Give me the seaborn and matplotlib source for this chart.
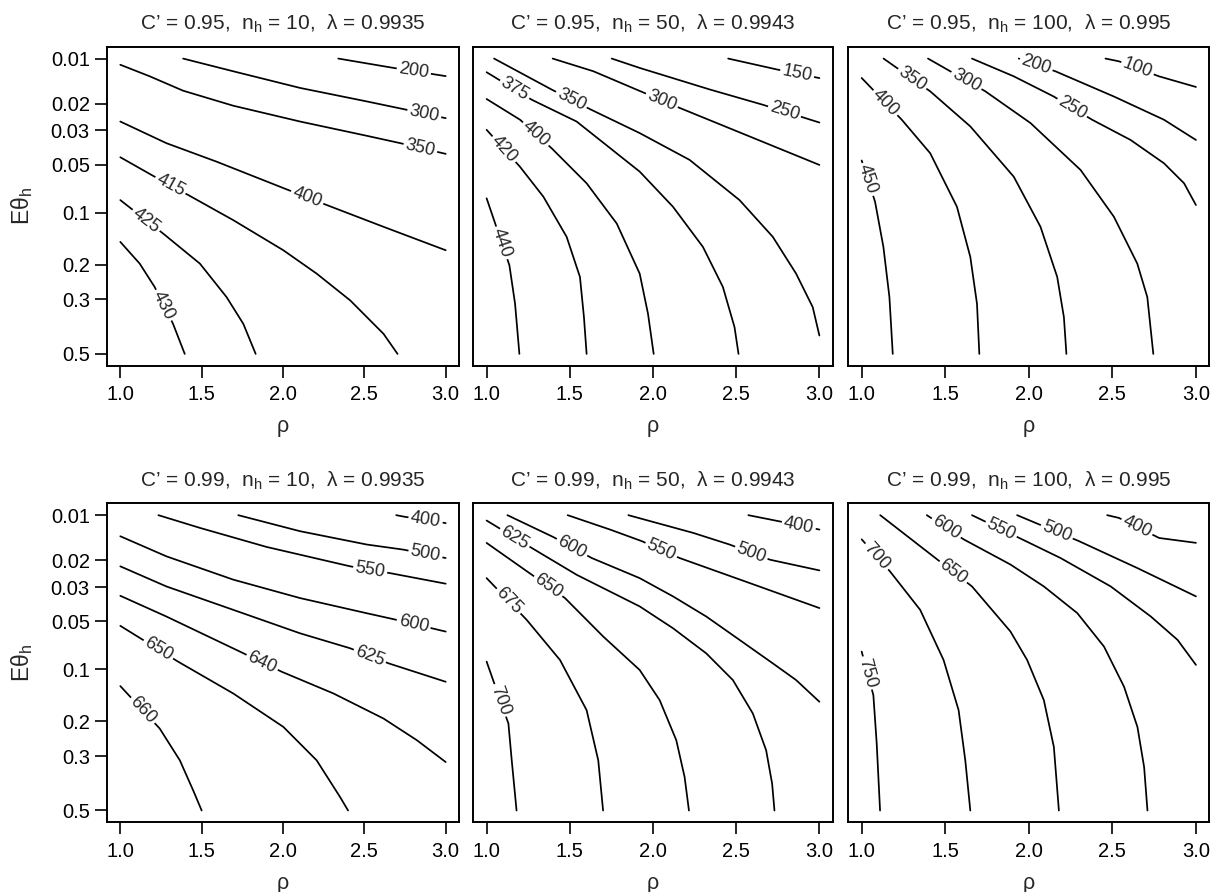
import numpy as np
import pandas as pd
import matplotlib
matplotlib.use("Agg")
import matplotlib.pyplot as plt
import seaborn as sns
from matplotlib.ticker import NullLocator

# --- panel titles ---
c_prime = ["0.95", "0.99"]
n_h = [10, 50, 100]
lam = ["0.9935", "0.9943", "0.995"]

# axis ticks
rho_ticks = [1.0, 1.5, 2.0, 2.5, 3.0]
eth_ticks = [0.01, 0.02, 0.03, 0.05, 0.1, 0.2, 0.3, 0.5]
eth_tick_labels = ["0.01", "0.02", "0.03", "0.05", "0.1", "0.2", "0.3", "0.5"]

# --- panel 1: C'=0.95, n_h=10 ---
levels1 = [200, 300, 350, 400, 415, 425, 430]
rho1 = [[2.34, 2.68, 3.0],
        [1.386, 1.694, 2.105, 2.515, 2.741, 3.0],
        [1.0, 1.181, 1.386, 1.694, 2.105, 2.515, 2.721, 3.0],
        [1.0, 1.283, 1.591, 2.023, 2.269, 2.618, 3.0],
        [1.0, 1.201, 1.417, 1.694, 2.002, 2.207, 2.413, 2.618, 2.704],
        [1.0, 1.263, 1.489, 1.653, 1.756, 1.832],
        [1.0, 1.119, 1.211, 1.324, 1.396]]
eth1 = [[0.0100, 0.01155, 0.0131],
        [0.0100, 0.01216, 0.0157, 0.0193, 0.0217, 0.0249],
        [0.0110, 0.01314, 0.01638, 0.0206, 0.0262, 0.0325, 0.0363, 0.0426],
        [0.0262, 0.0363, 0.0478, 0.0718, 0.0898, 0.1216, 0.1662],
        [0.0448, 0.0589, 0.0778, 0.1109, 0.1662, 0.2229, 0.3031, 0.4226, 0.5],
        [0.0837, 0.1332, 0.1970, 0.2923, 0.3851, 0.5],
        [0.1490, 0.1970, 0.2609, 0.3850, 0.5]]
lab_rho1 = [2.803, 2.869, 2.844, 2.142, 1.304, 1.160, 1.263]
lab_eth1 = [0.01234, 0.0231, 0.0392, 0.0837, 0.0690, 0.1109, 0.3200]

# --- panel 2: C'=0.95, n_h=50 ---
levels2 = [150, 250, 300, 350, 375, 400, 420, 440]
rho2 = [[2.452, 2.75, 3.0],
        [1.752, 1.92, 2.343, 2.66, 3.0],
        [1.397, 1.642, 2.16, 2.58, 3.0],
        [1.045, 1.391, 1.621, 1.92, 2.22, 2.52, 2.72, 2.86, 2.96, 3.0],
        [1.0, 1.271, 1.541, 1.92, 2.12, 2.30, 2.42, 2.49, 2.514],
        [1.0, 1.201, 1.391, 1.601, 1.782, 1.92, 1.97, 2.004],
        [1.0, 1.2, 1.341, 1.481, 1.561, 1.585, 1.601],
        [1.0, 1.137, 1.171, 1.197]]
eth2 = [[0.0100, 0.01186, 0.0135],
        [0.0100, 0.01155, 0.0161, 0.0203, 0.0266],
        [0.0100, 0.01216, 0.0213, 0.0328, 0.0502],
        [0.0100, 0.0161, 0.0217, 0.0312, 0.0466, 0.0837, 0.1393, 0.2229, 0.3257, 0.429],
        [0.01234, 0.0188, 0.0262, 0.0554, 0.0920, 0.1591, 0.2609, 0.3975, 0.5],
        [0.0186, 0.0255, 0.0392, 0.0657, 0.1162, 0.2229, 0.349, 0.5],
        [0.0297, 0.0515, 0.0797, 0.1393, 0.2320, 0.361, 0.5],
        [0.0816, 0.2012, 0.3143, 0.5]]
lab_rho2 = [2.863, 2.787, 2.046, 1.507, 1.165, 1.291, 1.111, 1.080]
lab_eth2 = [0.01314, 0.0231, 0.0198, 0.0190, 0.01629, 0.0320, 0.0392, 0.1522]

# --- panel 3: C'=0.95, n_h=100 ---
levels3 = [100, 200, 250, 300, 350, 400, 450]
rho3 = [[2.459, 2.539, 2.779, 3.0],
        [1.94, 2.159, 2.509, 2.809, 3.0],
        [1.660, 1.910, 2.149, 2.379, 2.609, 2.809, 2.929, 3.0],
        [1.397, 1.740, 2.010, 2.310, 2.509, 2.649, 2.709, 2.745],
        [1.131, 1.410, 1.650, 1.910, 2.070, 2.170, 2.210, 2.225],
        [1.0, 1.240, 1.410, 1.570, 1.650, 1.690, 1.704],
        [1.0, 1.080, 1.130, 1.166, 1.186]]
eth3 = [[0.0100, 0.01043, 0.01314, 0.01547],
        [0.0100, 0.01216, 0.0179, 0.0255, 0.0346],
        [0.0100, 0.01314, 0.0179, 0.0255, 0.0346, 0.0490, 0.0657, 0.0898],
        [0.0100, 0.01654, 0.0268, 0.0541, 0.1058, 0.1970, 0.2923, 0.5],
        [0.0100, 0.01654, 0.0282, 0.0597, 0.1216, 0.2320, 0.3608, 0.5],
        [0.01348, 0.0255, 0.0422, 0.0920, 0.1811, 0.3143, 0.5],
        [0.0470, 0.0856, 0.1591, 0.2923, 0.5]]
lab_rho3 = [2.649, 2.044, 2.259, 1.630, 1.306, 1.150, 1.027]
lab_eth3 = [0.01173, 0.0110, 0.0213, 0.01383, 0.01348, 0.0193, 0.0626]

# --- panel 4: C'=0.99, n_h=10 ---
levels4 = [400, 500, 550, 600, 625, 640, 650, 660]
rho4 = [[2.696, 2.75, 3.0],
        [1.725, 2.105, 2.515, 2.741, 3.0],
        [1.234, 1.489, 1.899, 2.413, 2.659, 3.0],
        [1.0, 1.283, 1.694, 2.105, 2.515, 2.680, 3.0],
        [1.0, 1.283, 1.694, 2.105, 2.413, 2.649, 3.0],
        [1.0, 1.283, 1.735, 1.992, 2.310, 2.618, 2.823, 3.0],
        [1.0, 1.355, 1.694, 2.002, 2.207, 2.351, 2.40],
        [1.0, 1.242, 1.366, 1.448, 1.50]]
eth4 = [[0.0100, 0.01026, 0.0113],
        [0.0100, 0.0128, 0.0157, 0.01698, 0.0193],
        [0.0100, 0.01216, 0.01629, 0.0219, 0.0243, 0.0285],
        [0.01383, 0.0188, 0.0268, 0.0354, 0.0444, 0.0485, 0.0582],
        [0.0219, 0.0297, 0.0422, 0.0597, 0.0742, 0.0920, 0.1189],
        [0.0342, 0.0466, 0.0778, 0.1035, 0.1393, 0.1930, 0.2510, 0.320],
        [0.0535, 0.0898, 0.1393, 0.2140, 0.3143, 0.448, 0.5],
        [0.1261, 0.2183, 0.3143, 0.4226, 0.5]]
lab_rho4 = [2.875, 2.875, 2.536, 2.803, 2.532, 1.869, 1.232, 1.140]
lab_eth4 = [0.0110, 0.0183, 0.0231, 0.0520, 0.0837, 0.0920, 0.0760, 0.1735]

# --- panel 5: C'=0.99, n_h=50 ---
levels5 = [400, 500, 550, 600, 625, 650, 675, 700]
rho5 = [[2.573, 2.76, 3.0],
        [1.852, 2.242, 2.46, 2.703, 3.0],
        [1.487, 1.742, 1.932, 2.16, 2.58, 3.0],
        [1.125, 1.401, 1.632, 1.92, 2.12, 2.32, 2.52, 2.72, 2.86, 3.0],
        [1.0, 1.271, 1.541, 1.92, 2.12, 2.32, 2.48, 2.60, 2.68, 2.716, 2.73],
        [1.0, 1.471, 1.701, 1.92, 2.04, 2.14, 2.19, 2.216],
        [1.0, 1.241, 1.441, 1.601, 1.671, 1.70],
        [1.0, 1.131, 1.151, 1.18]]
eth5 = [[0.0100, 0.0110, 0.01248],
        [0.0100, 0.01314, 0.0157, 0.0198, 0.0233],
        [0.0100, 0.01248, 0.0149, 0.0193, 0.0282, 0.0411],
        [0.0100, 0.0140, 0.0193, 0.0262, 0.0345, 0.0466, 0.0657, 0.0920, 0.1161, 0.1555],
        [0.01086, 0.01654, 0.0249, 0.0401, 0.0554, 0.0798, 0.1161, 0.1810, 0.2816, 0.3972, 0.5],
        [0.01532, 0.0354, 0.0626, 0.1010, 0.1522, 0.2510, 0.3729, 0.5],
        [0.0262, 0.0490, 0.0877, 0.1735, 0.3143, 0.5],
        [0.0898, 0.2053, 0.3143, 0.5]]
lab_rho5 = [2.873, 2.587, 2.046, 1.511, 1.165, 1.377, 1.141, 1.057]
lab_eth5 = [0.01216, 0.0183, 0.0174, 0.01654, 0.0144, 0.0289, 0.0363, 0.1556]

# --- panel 6: C'=0.99, n_h=100 ---
levels6 = [400, 500, 550, 600, 650, 700, 750]
rho6 = [[2.469, 2.539, 2.78, 3.0],
        [1.930, 2.30, 2.65, 3.0],
        [1.660, 1.96, 2.19, 2.49, 2.73, 2.89, 3.0],
        [1.390, 1.610, 1.89, 2.09, 2.29, 2.45, 2.57, 2.65, 2.69, 2.71],
        [1.111, 1.660, 1.89, 1.99, 2.09, 2.15, 2.18],
        [1.0, 1.170, 1.350, 1.490, 1.580, 1.620, 1.65],
        [1.0, 1.070, 1.090, 1.11]]
eth6 = [[0.0100, 0.01043, 0.0142, 0.0153],
        [0.0100, 0.0149, 0.0225, 0.0345],
        [0.0100, 0.0145, 0.0193, 0.0297, 0.0466, 0.0657, 0.0940],
        [0.0100, 0.0145, 0.0213, 0.0297, 0.0443, 0.0724, 0.1273, 0.2142, 0.3372, 0.5],
        [0.0100, 0.0297, 0.0581, 0.0877, 0.1522, 0.2713, 0.5],
        [0.0145, 0.0237, 0.0422, 0.0877, 0.1735, 0.3143, 0.5],
        [0.0778, 0.1425, 0.2609, 0.5]]
lab_rho6 = [2.649, 2.169, 1.834, 1.500, 1.550, 1.080, 1.027]
lab_eth6 = [0.01186, 0.0128, 0.01248, 0.01248, 0.0237, 0.0193, 0.1058]

panels = [
    (levels1, rho1, eth1, lab_rho1, lab_eth1),
    (levels2, rho2, eth2, lab_rho2, lab_eth2),
    (levels3, rho3, eth3, lab_rho3, lab_eth3),
    (levels4, rho4, eth4, lab_rho4, lab_eth4),
    (levels5, rho5, eth5, lab_rho5, lab_eth5),
    (levels6, rho6, eth6, lab_rho6, lab_eth6),
]

# --- style ---
sns.set_style("ticks")
plt.rcParams["font.family"] = ["Liberation Sans", "DejaVu Sans"]
plt.rcParams["mathtext.fontset"] = "custom"
plt.rcParams["mathtext.rm"] = "Liberation Sans"
plt.rcParams["axes.edgecolor"] = "black"

W, H = 1211, 892
fig = plt.figure(figsize=(W / 100, H / 100), dpi=100)

# panel boxes in pixels: (left, right), (top, bottom)
cols_px = [(107.3, 458.7), (473.3, 832.7), (848.3, 1209.3)]
rows_px = [(46.7, 365.7), (503.3, 822.3)]


def place_label(ax, xs, ys, lx, ly, text):
    # put the label on the nearest point of the line, rotated along it
    pts = ax.transData.transform(np.column_stack([xs, ys]))
    target = np.array(ax.transData.transform((lx, ly)))
    best = None
    for i in range(len(pts) - 1):
        a, b = pts[i], pts[i + 1]
        d = b - a
        t = np.clip(np.dot(target - a, d) / np.dot(d, d), 0, 1)
        proj = a + t * d
        dist = np.hypot(*(target - proj))
        if best is None or dist < best[0]:
            best = (dist, proj, d)
    _, proj, d = best
    ang = np.degrees(np.arctan2(d[1], d[0]))
    if ang > 90:
        ang -= 180
    if ang < -90:
        ang += 180
    x, y = ax.transData.inverted().transform(proj)
    ax.text(x, y, text, rotation=ang, rotation_mode="anchor", ha="center",
            va="center", fontsize=13, zorder=4,
            bbox=dict(boxstyle="square,pad=0.12", fc="white", ec="none"))


for k, (levels, rhos, eths, lrho, leth) in enumerate(panels):
    r, c = divmod(k, 3)
    x0, x1 = cols_px[c]
    y0, y1 = rows_px[r]
    ax = fig.add_axes([x0 / W, 1 - y1 / H, (x1 - x0) / W, (y1 - y0) / H])

    df = pd.DataFrame({
        "rho": np.concatenate(rhos),
        "eth": np.concatenate(eths),
        "level": np.repeat(levels, [len(v) for v in rhos]),
    })
    sns.lineplot(data=df, x="rho", y="eth", units="level", estimator=None,
                 sort=False, color="black", linewidth=1.25, ax=ax)

    ax.set_yscale("logit")
    ax.set_xlim(0.92, 3.08)
    ax.set_ylim(0.5458, 0.008328)
    ax.set_xticks(rho_ticks)
    ax.set_xticklabels([f"{v:.1f}" for v in rho_ticks])
    ax.set_yticks(eth_ticks)
    ax.set_yticklabels(eth_tick_labels)
    ax.yaxis.set_minor_locator(NullLocator())
    ax.xaxis.set_minor_locator(NullLocator())
    ax.set_xlabel("")
    ax.set_ylabel("")
    for s in ax.spines.values():
        s.set_visible(True)
        s.set_linewidth(1.4)
    ax.tick_params(axis="x", direction="out", length=8.4, width=1.2,
                   labelsize=14.5, pad=5.5, colors="black")
    ax.tick_params(axis="y", direction="out", length=8.4, width=1.2,
                   labelsize=14.5, pad=4.2, colors="black")
    if c > 0:
        ax.tick_params(axis="y", left=False, labelleft=False)

    for lev, xs, ys, lx, ly in zip(levels, rhos, eths, lrho, leth):
        place_label(ax, xs, ys, lx, ly, str(lev))

    title = f"C\u2019 = {c_prime[r]},  n$_\\mathregular{{h}}$ = {n_h[c]},  \u03bb = {lam[c]}"
    ax.annotate(title, xy=(0.5, 1), xycoords="axes fraction",
                xytext=(0, 12.5), textcoords="offset points",
                ha="center", va="baseline", fontsize=15)
    ax.annotate("\u03c1", xy=(0.5, 0), xycoords="axes fraction",
                xytext=(0, -44), textcoords="offset points",
                ha="center", va="center", fontsize=15.5)
    if c == 0:
        fig.text(22.5 / W, 1 - (y0 + y1) / 2 / H, "E\u03b8$_\\mathregular{h}$",
                 rotation=90, ha="center", va="center", fontsize=16.5)

fig.savefig("out.png", dpi=100)
